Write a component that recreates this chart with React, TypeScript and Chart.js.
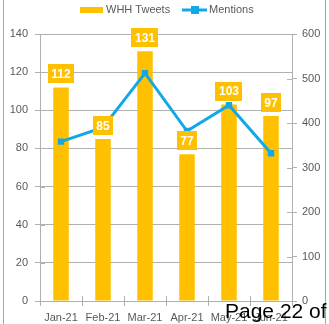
import React, { useEffect, useRef } from "react";
import { Chart, registerables } from "chart.js";

Chart.register(...registerables);

const categories = ["Jan-21", "Feb-21", "Mar-21", "Apr-21", "May-21", "Jun-21"];
const tweets = [112, 85, 131, 77, 103, 97];
const mentions = [358, 390, 512, 382, 440, 332];
const leftTicks = [0, 20, 40, 60, 80, 100, 120, 140];
const rightTicks = [0, 100, 200, 300, 400, 500, 600];

const BAR = "#FFC000";
const LINE = "#12A8E6";
const TEXT = "#595959";
const GRID = "#B0B0B0";
const FONT = "'Liberation Sans', Arial, sans-serif";

const extras = {
  id: "extras",
  afterDatasetsDraw(chart: any) {
    const ctx = chart.ctx;
    const meta = chart.getDatasetMeta(0);
    ctx.save();
    ctx.font = `bold 12px ${FONT}`;
    ctx.textAlign = "center";
    ctx.textBaseline = "middle";
    meta.data.forEach((bar: any, i: number) => {
      const txt = String(tweets[i]);
      const w = ctx.measureText(txt).width + 7;
      const h = 19;
      const cy = bar.y - 4 - h / 2;
      ctx.fillStyle = BAR;
      ctx.fillRect(Math.round(bar.x - w / 2), Math.round(cy - h / 2), Math.round(w), h);
      ctx.fillStyle = "#FFFFFF";
      ctx.fillText(txt, bar.x, cy + 1);
    });
    ctx.strokeStyle = GRID;
    ctx.lineWidth = 1;
    const yl = chart.scales.y;
    const yr = chart.scales.y1;
    const xs = chart.scales.x;
    ctx.beginPath();
    yl.ticks.forEach((t: any) => {
      const py = Math.round(yl.getPixelForValue(t.value)) + 0.5;
      ctx.moveTo(yl.right, py);
      ctx.lineTo(yl.right + 5, py);
    });
    yr.ticks.forEach((t: any) => {
      const py = Math.round(yr.getPixelForValue(t.value)) + 0.5;
      ctx.moveTo(yr.left - 5, py);
      ctx.lineTo(yr.left, py);
    });
    for (let i = 0; i <= categories.length; i++) {
      const px = Math.round(xs.left + (i * (xs.right - xs.left)) / categories.length) + 0.5;
      ctx.moveTo(px, xs.top);
      ctx.lineTo(px, xs.top - 5);
    }
    ctx.stroke();
    ctx.restore();
  },
  afterDraw(chart: any) {
    const ctx = chart.ctx;
    ctx.save();
    ctx.font = `11px ${FONT}`;
    ctx.textBaseline = "middle";
    ctx.textAlign = "left";
    const y = 10;
    ctx.fillStyle = BAR;
    ctx.fillRect(80, y - 3, 23, 6);
    ctx.fillStyle = TEXT;
    ctx.fillText("WHH Tweets", 106, y);
    ctx.strokeStyle = LINE;
    ctx.lineWidth = 3;
    ctx.beginPath();
    ctx.moveTo(182, y);
    ctx.lineTo(207, y);
    ctx.stroke();
    ctx.fillStyle = LINE;
    ctx.fillRect(191, y - 4, 8, 8);
    ctx.fillStyle = TEXT;
    ctx.fillText("Mentions", 209, y);
    ctx.restore();
  },
};

export default function App() {
  const ref = useRef<HTMLCanvasElement>(null);
  useEffect(() => {
    document.body.style.margin = "0";
    const chart = new Chart(ref.current as HTMLCanvasElement, {
      type: "bar",
      data: {
        labels: categories,
        datasets: [
          {
            type: "bar",
            label: "WHH Tweets",
            data: tweets,
            backgroundColor: BAR,
            yAxisID: "y",
            categoryPercentage: 1,
            barPercentage: 0.37,
            order: 2,
          } as any,
          {
            type: "line",
            label: "Mentions",
            data: mentions,
            borderColor: LINE,
            backgroundColor: LINE,
            borderWidth: 3,
            pointStyle: "rect",
            pointRadius: 4.5,
            pointBorderWidth: 0,
            yAxisID: "y1",
            order: 1,
          } as any,
        ],
      },
      options: {
        responsive: false,
        animation: false,
        layout: { padding: { top: 34, left: 0, right: 0, bottom: 0 } },
        plugins: { legend: { display: false }, tooltip: { enabled: false } },
        scales: {
          x: {
            grid: { display: true, drawOnChartArea: false, color: GRID, tickLength: 5, offset: true },
            border: { color: GRID },
            ticks: { color: TEXT, font: { family: FONT, size: 11 }, padding: 5, maxRotation: 0, autoSkip: false },
            afterFit: (s: any) => { s.height = 23; },
          },
          y: {
            position: "left",
            min: 0,
            max: 140,
            afterBuildTicks: (s: any) => { s.ticks = leftTicks.map((v) => ({ value: v })); },
            grid: { color: GRID, tickLength: 5 },
            border: { color: GRID },
            ticks: { color: TEXT, font: { family: FONT, size: 11 }, padding: 7 },
            afterFit: (s: any) => { s.width = 40; },
          },
          y1: {
            position: "right",
            min: 0,
            max: 600,
            afterBuildTicks: (s: any) => { s.ticks = rightTicks.map((v) => ({ value: v })); },
            grid: { drawOnChartArea: false, color: GRID, tickLength: 5 },
            border: { color: GRID },
            ticks: { color: TEXT, font: { family: FONT, size: 11 }, padding: 5 },
            afterFit: (s: any) => { s.width = 37; },
          },
        },
      },
      plugins: [extras],
    });
    return () => chart.destroy();
  }, []);
  return (
    <div style={{ position: "relative", width: 329, height: 324, overflow: "hidden", background: "#fff" }}>
      <canvas ref={ref} width={329} height={324} style={{ display: "block" }} />
      <div style={{ position: "absolute", left: 3, top: 0, width: 1, height: 324, background: "#A6A6A6" }} />
      <div style={{ position: "absolute", left: 325, top: 0, width: 1, height: 324, background: "#A6A6A6" }} />
      <div
        style={{
          position: "absolute",
          left: 225,
          top: 299,
          fontFamily: FONT,
          fontSize: 21,
          lineHeight: "24px",
          color: "#000",
          whiteSpace: "nowrap",
        }}
      >
        Page 22 of
      </div>
    </div>
  );
}
